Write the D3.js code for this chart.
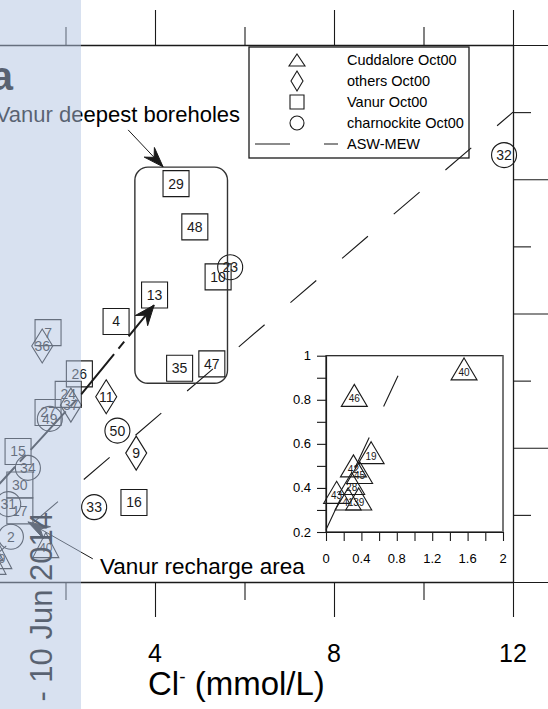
<!DOCTYPE html>
<html>
<head>
<meta charset="utf-8">
<script src="https://cdn.jsdelivr.net/npm/d3@7"></script>
<style>
html, body { margin: 0; padding: 0; background: #fff; }
svg { display: block; font-family: "Liberation Sans", Arial, sans-serif; }
</style>
</head>
<body>
<svg id="chart" width="548" height="709"></svg>
<script>
// x is Cl- (mmol/L); the left y axis is cut off in the figure, y values read against the frame ticks
const vanurIds = ["29", "48", "10", "13", "4", "35", "47", "26", "16", "7", "24", "27", "15", "30", "17"];
const vanurCl  = [4.47, 4.89, 5.41, 3.99, 3.13, 4.55, 5.27, 2.31, 3.53, 1.61, 2.06, 1.61, 0.94, 0.98, 0.98];
const vanurY   = [11.87, 10.58, 9.09, 8.55, 7.76, 6.37, 6.50, 6.20, 2.37, 7.43, 5.59, 5.05, 3.89, 2.89, 2.12];

const charnIds = ["23", "33", "50", "32", "49", "34", "31", "2"];
const charnCl  = [5.68, 2.64, 3.16, 11.80, 1.65, 1.16, 0.72, 0.78];
const charnY   = [9.38, 2.23, 4.51, 12.72, 4.86, 3.40, 2.32, 1.35];

const otherIds = ["11", "9", "36", "37"];
const otherCl  = [2.91, 3.58, 1.48, 2.12];
const otherY   = [5.52, 3.84, 7.03, 5.27];

const cuddIds = ["40", "19", "45", "46"];
const cuddCl  = [1.56, 0.51, 0.38, 0.32];
const cuddY   = [1.10, 0.77, 0.60, 1.01];

// inset (low Cl zoom)
const insetIds = ["40", "46", "19", "42", "45", "28", "43", "41", "39"];
const insetCl  = [1.56, 0.32, 0.51, 0.31, 0.38, 0.29, 0.12, 0.25, 0.37];
const insetY   = [0.94, 0.82, 0.56, 0.50, 0.47, 0.42, 0.38, 0.35, 0.35];

// ASW-MEW mixing line
const aswCl = [0.1, 12];
const aswY  = [0.42, 14.0];
const aswInsetCl = [0, 0.92];
const aswInsetY  = [0.21, 1.0];

// annotation arrows (data units)
const mixArrowCl = [0.09, 2.32, 3.98];
const mixArrowY  = [2.29, 5.54, 8.25];
const boreArrowCl = [3.40, 4.18];
const boreArrowY  = [13.47, 12.37];
const rechArrowCl = [2.61, 1.16];
const rechArrowY  = [0.69, 1.79];
const boxCl = [3.55, 5.62];
const boxY  = [5.92, 12.36];

const xMajor = [0, 4, 8, 12];
const xMinor = [2, 6, 10];
const yMajor = [0, 4, 8, 12, 16];
const yMinor = [2, 6, 10, 14];
const insetXTicks = [0, 0.4, 0.8, 1.2, 1.6, 2];
const insetYTicks = [0.2, 0.4, 0.6, 0.8, 1];

const legendNames = ["Cuddalore Oct00", "others Oct00", "Vanur Oct00", "charnockite Oct00", "ASW-MEW"];
const legendTypes = ["triangle", "diamond", "square", "circle", "line"];

const svg = d3.select("#chart");
const INK = "#1a1a1a";

const x = d3.scaleLinear().domain([4, 12]).range([155, 513]);
const y = d3.scaleLinear().domain([0, 16]).range([582, 45]);
// frame scale reaching past the left (cut) edge
const xFrame = x.copy().domain([x.invert(-60), 12]).range([-60, 513]);

const ix = d3.scaleLinear().domain([0, 2]).range([326, 503]);
const iy = d3.scaleLinear().domain([0.2, 1]).range([532, 355.7]);

const g = svg.append("g");

// ---- frame axes, outward ticks ----
function frameAxis(axisFn, scale, ticks, size, tx, ty, withDomain) {
    const a = axisFn(scale).tickValues(ticks).tickSize(size).tickSizeOuter(0).tickFormat("");
    const ax = g.append("g").attr("transform", `translate(${tx},${ty})`).call(a);
    ax.selectAll("line").attr("stroke", INK).attr("stroke-width", 1.1);
    ax.select(".domain").attr("stroke", INK).attr("stroke-width", 1.3)
        .style("display", withDomain ? null : "none");
}
frameAxis(d3.axisTop, xFrame, xMajor, 35, 0, 45, true);
frameAxis(d3.axisTop, xFrame, xMinor, 18, 0, 45, false);
frameAxis(d3.axisBottom, xFrame, xMajor, 35, 0, 582, true);
frameAxis(d3.axisBottom, xFrame, xMinor, 18, 0, 582, false);
frameAxis(d3.axisRight, y, yMajor, 35, 513, 0, true);
frameAxis(d3.axisRight, y, yMinor, 18, 513, 0, false);

g.selectAll(".xlab")
    .data(xMajor.filter(d => d > 0))
    .enter().append("text")
    .attr("x", d => x(d)).attr("y", 662)
    .attr("text-anchor", "middle")
    .style("font-size", "25px")
    .text(d => d);

const title = g.append("text").attr("x", 148).attr("y", 695).style("font-size", "33px");
title.append("tspan").text("Cl");
title.append("tspan").attr("dy", -12).style("font-size", "19px").text("-");
title.append("tspan").attr("dy", 12).text(" (mmol/L)");

// ---- symbols ----
function symbolPath(type, cx, cy, s) {
    if (type === "triangle") {
        return `M${cx},${cy - s.h / 2}L${cx + s.w},${cy + s.h / 2}L${cx - s.w},${cy + s.h / 2}Z`;
    }
    if (type === "diamond") {
        return `M${cx},${cy - s.h}L${cx + s.w},${cy}L${cx},${cy + s.h}L${cx - s.w},${cy}Z`;
    }
    if (type === "square") {
        return `M${cx - s.w},${cy - s.w}h${2 * s.w}v${2 * s.w}h${-2 * s.w}Z`;
    }
    return `M${cx - s.w},${cy}a${s.w},${s.w} 0 1,0 ${2 * s.w},0a${s.w},${s.w} 0 1,0 ${-2 * s.w},0Z`;
}

function plotGroup(parent, ids, xs, ys, sx, sy, type, s, fontSize, labelShift) {
    const pts = ids.map((id, i) => ({ id: id, cx: sx(xs[i]), cy: sy(ys[i]) }));
    const grp = parent.append("g");
    grp.selectAll("path")
        .data(pts).enter().append("path")
        .attr("d", d => symbolPath(type, d.cx, d.cy, s))
        .attr("fill", "none")
        .attr("stroke", INK)
        .attr("stroke-width", 1.1);
    grp.selectAll("text")
        .data(pts).enter().append("text")
        .attr("x", d => d.cx)
        .attr("y", d => d.cy + labelShift)
        .attr("dy", "0.35em")
        .attr("text-anchor", "middle")
        .style("font-size", fontSize + "px")
        .attr("fill", INK)
        .text(d => d.id);
}

plotGroup(g, vanurIds, vanurCl, vanurY, x, y, "square", { w: 13 }, 14, 0);
plotGroup(g, charnIds, charnCl, charnY, x, y, "circle", { w: 12.5 }, 14, 0);
plotGroup(g, otherIds, otherCl, otherY, x, y, "diamond", { w: 10.5, h: 17 }, 14, 0);
plotGroup(g, cuddIds, cuddCl, cuddY, x, y, "triangle", { w: 13, h: 25 }, 12, 3);

// ASW-MEW dashed line (drawn over symbols)
const line = d3.line().x(d => d[0]).y(d => d[1]);
g.append("path")
    .attr("d", line(aswCl.map((c, i) => [x(c), y(aswY[i])])))
    .attr("fill", "none").attr("stroke", INK).attr("stroke-width", 1.1)
    .attr("stroke-dasharray", "34,34");

// rounded box round the deepest boreholes
g.append("rect")
    .attr("x", x(boxCl[0])).attr("y", y(boxY[1]))
    .attr("width", x(boxCl[1]) - x(boxCl[0]))
    .attr("height", y(boxY[0]) - y(boxY[1]))
    .attr("rx", 13).attr("ry", 13)
    .attr("fill", "none").attr("stroke", "#333").attr("stroke-width", 1.4);

// arrows
function arrowHead(tip, from, L, W) {
    const dx = tip[0] - from[0], dy = tip[1] - from[1];
    const len = Math.hypot(dx, dy);
    const ux = dx / len, uy = dy / len;
    const px = -uy, py = ux;
    const bx = tip[0] - ux * L, by = tip[1] - uy * L;
    const nx = tip[0] - ux * L * 0.65, ny = tip[1] - uy * L * 0.65;
    return `M${tip[0]},${tip[1]}L${bx + px * W},${by + py * W}L${nx},${ny}L${bx - px * W},${by - py * W}Z`;
}
function drawArrow(xs, ys, width, dash, L, W) {
    const pts = xs.map((c, i) => [x(c), y(ys[i])]);
    g.append("path")
        .attr("d", line(pts))
        .attr("fill", "none").attr("stroke", INK).attr("stroke-width", width)
        .attr("stroke-dasharray", dash);
    g.append("path")
        .attr("d", arrowHead(pts[pts.length - 1], pts[pts.length - 2], L, W))
        .attr("fill", INK).attr("stroke", INK).attr("stroke-width", 1);
}
drawArrow(mixArrowCl, mixArrowY, 2, "52,7,9,7", 20, 8);
drawArrow(boreArrowCl, boreArrowY, 1, null, 20, 7);
drawArrow(rechArrowCl, rechArrowY, 1, null, 22, 7);

g.append("text")
    .attr("x", x(5.9)).attr("y", y(13.71))
    .attr("text-anchor", "end")
    .style("font-size", "22px")
    .text("Vanur deepest boreholes");
g.append("text")
    .attr("x", x(2.77)).attr("y", y(0.24))
    .style("font-size", "22.5px")
    .text("Vanur recharge area");

// ---- legend ----
const leg = g.append("g");
leg.append("rect")
    .attr("x", 249).attr("y", 47).attr("width", 220).attr("height", 111)
    .attr("fill", "none").attr("stroke", INK).attr("stroke-width", 1.3);
const legSizes = {
    triangle: { w: 8, h: 12 }, diamond: { w: 6, h: 10 },
    square: { w: 7 }, circle: { w: 7 }
};
legendNames.forEach((name, i) => {
    const cy = 60 + i * 21;
    const t = legendTypes[i];
    if (t === "line") {
        leg.append("line")
            .attr("x1", 255).attr("x2", 338).attr("y1", cy).attr("y2", cy)
            .attr("stroke", INK).attr("stroke-width", 1.1)
            .attr("stroke-dasharray", "35,34");
    } else {
        leg.append("path")
            .attr("d", symbolPath(t, 297, cy, legSizes[t]))
            .attr("fill", "none").attr("stroke", INK).attr("stroke-width", 1.1);
    }
    leg.append("text")
        .attr("x", 347).attr("y", cy).attr("dy", "0.35em")
        .style("font-size", "14.5px")
        .text(name);
});

// ---- inset ----
const ins = g.append("g");
ins.append("rect")
    .attr("x", ix(0)).attr("y", iy(1))
    .attr("width", ix(2) - ix(0)).attr("height", iy(0.2) - iy(1))
    .attr("fill", "#fff").attr("stroke", INK).attr("stroke-width", 1.2);
ins.append("line")
    .attr("x1", ix(2)).attr("x2", ix(2)).attr("y1", iy(1)).attr("y2", iy(0.2))
    .attr("stroke", "#777").attr("stroke-width", 2);

const iax = ins.append("g").attr("transform", `translate(0,${iy(0.2)})`)
    .call(d3.axisBottom(ix).tickValues(d3.range(0, 2.01, 0.2)).tickSize(9).tickSizeOuter(0).tickFormat(""));
const iay = ins.append("g").attr("transform", `translate(${ix(0)},0)`)
    .call(d3.axisLeft(iy).tickValues(d3.range(0.2, 1.01, 0.1)).tickSize(9).tickSizeOuter(0).tickFormat(""));
[iax, iay].forEach(a => {
    a.selectAll("line").attr("stroke", INK).attr("stroke-width", 1.1);
    a.select(".domain").attr("stroke", INK).attr("stroke-width", 1.2);
});
ins.selectAll(".ixl").data(insetXTicks).enter().append("text")
    .attr("x", d => ix(d)).attr("y", 563)
    .attr("text-anchor", "middle").style("font-size", "13px")
    .text(d => d);
ins.selectAll(".iyl").data(insetYTicks).enter().append("text")
    .attr("x", 311).attr("y", d => iy(d)).attr("dy", "0.35em")
    .attr("text-anchor", "end").style("font-size", "13px")
    .text(d => d);

plotGroup(ins, insetIds, insetCl, insetY, ix, iy, "triangle", { w: 13, h: 22 }, 10, 3.5);
ins.append("path")
    .attr("d", line(aswInsetCl.map((c, i) => [ix(c), iy(aswInsetY[i])])))
    .attr("fill", "none").attr("stroke", INK).attr("stroke-width", 1.1)
    .attr("stroke-dasharray", "34,34");

// ---- page furniture under the side band ----
g.append("text")
    .attr("x", 13).attr("y", 90)
    .attr("text-anchor", "end")
    .style("font-size", "40px").style("font-weight", "bold")
    .text("a");
g.append("text")
    .attr("transform", "translate(52,512) rotate(-90)")
    .attr("text-anchor", "end")
    .style("font-size", "31px")
    .text("- 10 Jun 2014");

// light blue side band laid over the figure
svg.append("rect")
    .attr("x", 0).attr("y", 0).attr("width", 81).attr("height", 709)
    .attr("fill", "rgb(178,195,225)").attr("opacity", 0.5);
</script>
</body>
</html>
